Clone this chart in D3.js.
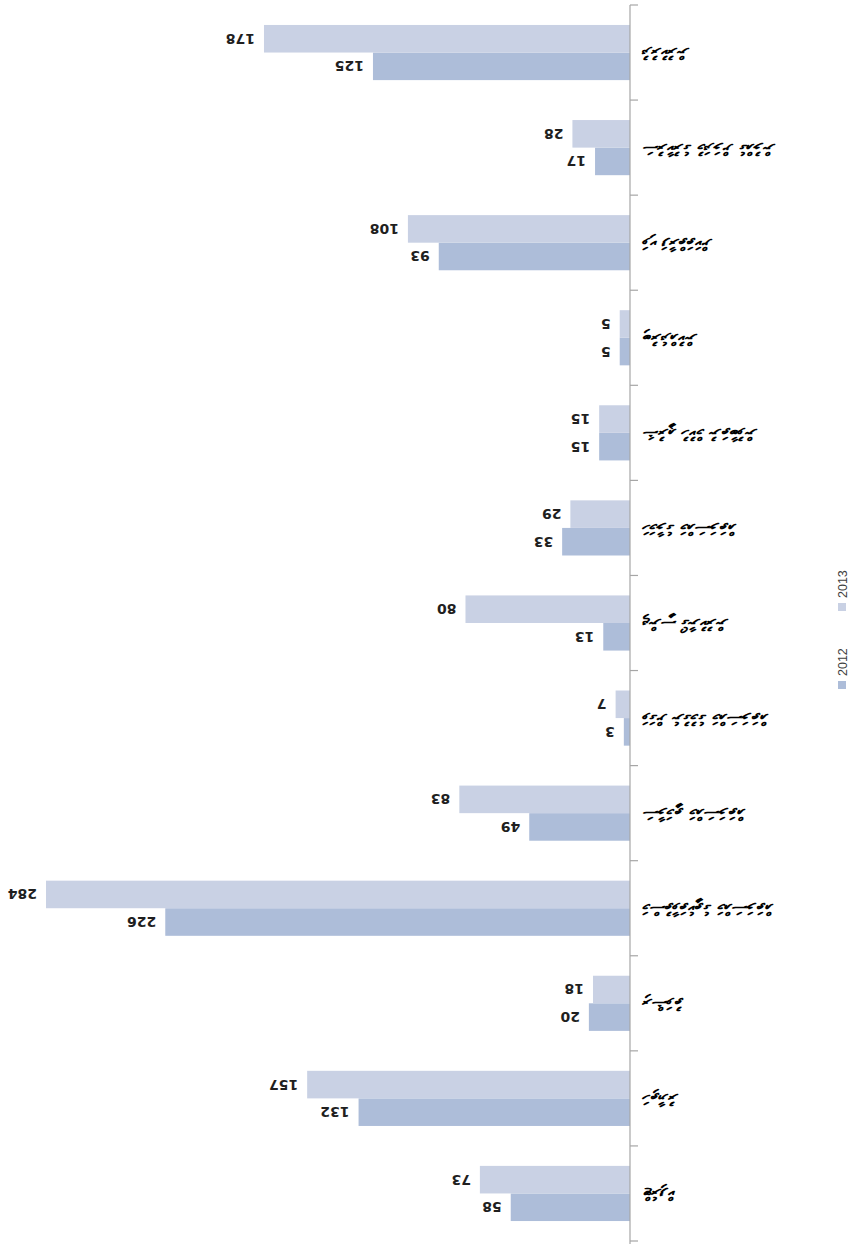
<!DOCTYPE html>
<html>
<head>
<meta charset="utf-8">
<script src="https://cdn.jsdelivr.net/npm/d3@7"></script>
<style>
  html, body { margin: 0; padding: 0; background: #ffffff; }
  svg { display: block; }
</style>
</head>
<body>
<svg id="chart" width="856" height="1244"></svg>
<script>
// Categories in reading order of the original (upright) chart, top to bottom.
const categories = [
  "ޓްރެފިކް",
  "ހަތިޔާރު",
  "ރިޝްވަތު",
  "މަސްތުވާތަކެތީގެ މައްސަލަތައް",
  "ސަލާމަތީ މައްސަލަތައް",
  "ވަގަށް ނެގުމުގެ މައްސަލަތައް",
  "ޖިންސީ ގޯނާކުރުން",
  "ހަމަލާގެ މައްސަލަތައް",
  "ޝަރުޢީ ހުކުމް ނުތަބާވުން",
  "ބިރުދެއްކުން",
  "ވަކި ފަރާތްތަކަށް",
  "ސަރުކާރުގެ މުދަލަށް ގެއްލުން",
  "ދުރުކުރުން"
];
const seriesNames = ["2012", "2013"];
const values2012 = [58, 132, 20, 226, 49, 3, 13, 33, 15, 5, 93, 17, 125];
const values2013 = [73, 157, 18, 284, 83, 7, 80, 29, 15, 5, 108, 28, 178];
const colors = { "2012": "#adbdd9", "2013": "#c9d1e4" };

const W = 856, H = 1244;
const svg = d3.select("#chart");

// The whole chart is shown turned upside down (rotated 180 degrees).
const g = svg.append("g").attr("transform", `rotate(180, ${W / 2}, ${H / 2})`);

const x = d3.scaleLinear().domain([0, 284]).range([226, 810]);
const y = d3.scaleBand().domain(categories).range([3, 1239])
  .paddingInner(0.42).paddingOuter(0.21);
const ySub = d3.scaleBand().domain(seriesNames).range([0, y.bandwidth()]);

const rows = categories.map((c, i) => ({ cat: c, "2012": values2012[i], "2013": values2013[i] }));

// bars
const groups = g.selectAll("g.cat").data(rows).join("g")
  .attr("class", "cat")
  .attr("transform", d => `translate(0, ${y(d.cat)})`);

groups.selectAll("rect").data(d => seriesNames.map(s => ({ s, v: d[s] }))).join("rect")
  .attr("x", x(0))
  .attr("y", d => ySub(d.s))
  .attr("width", d => x(d.v) - x(0))
  .attr("height", ySub.bandwidth())
  .attr("fill", d => colors[d.s]);

groups.selectAll("text.val").data(d => seriesNames.map(s => ({ s, v: d[s] }))).join("text")
  .attr("class", "val")
  .attr("x", d => x(d.v) + 9)
  .attr("y", d => ySub(d.s) + ySub.bandwidth() / 2)
  .attr("dy", "0.36em")
  .attr("font-family", "'DejaVu Sans', sans-serif")
  .attr("font-weight", "bold")
  .attr("font-size", 14)
  .attr("fill", "#1f1f1f")
  .text(d => d.v);

// category axis
const step = y.step();
const boundaries = categories.map(c => y(c) - (y.paddingInner() * step) / 2);
boundaries.push(y(categories[categories.length - 1]) + y.bandwidth() + (y.paddingInner() * step) / 2);

g.append("line")
  .attr("x1", x(0)).attr("x2", x(0))
  .attr("y1", 0).attr("y2", boundaries[boundaries.length - 1])
  .attr("stroke", "#a6a6a6").attr("stroke-width", 1.2);

g.selectAll("line.tick").data(boundaries).join("line")
  .attr("class", "tick")
  .attr("x1", x(0) - 8).attr("x2", x(0))
  .attr("y1", d => d).attr("y2", d => d)
  .attr("stroke", "#a6a6a6").attr("stroke-width", 1.2);

g.selectAll("text.cat").data(categories).join("text")
  .attr("class", "cat")
  .attr("x", x(0) - 13)
  .attr("y", d => y(d) + y.bandwidth() / 2)
  .attr("dy", "0.3em")
  .attr("text-anchor", "end")
  .attr("font-family", "'DejaVu Sans', 'Noto Sans', sans-serif")
  .attr("font-weight", "bold")
  .attr("font-size", 17)
  .attr("fill", "#000000")
  .text(d => d);

// legend (drawn in page coordinates, text reading bottom to top)
const legendItems = [
  { s: "2012", sq: 681, tx: 676 },
  { s: "2013", sq: 603, tx: 598 }
];
const lg = svg.append("g");
lg.selectAll("rect").data(legendItems).join("rect")
  .attr("x", 838).attr("y", d => d.sq).attr("width", 8).attr("height", 8)
  .attr("fill", d => colors[d.s]);
lg.selectAll("text").data(legendItems).join("text")
  .attr("transform", d => `translate(847, ${d.tx}) rotate(-90)`)
  .attr("font-family", "'Liberation Sans', Arial, sans-serif")
  .attr("font-size", 12.5)
  .attr("fill", "#404040")
  .text(d => d.s);
</script>
</body>
</html>
